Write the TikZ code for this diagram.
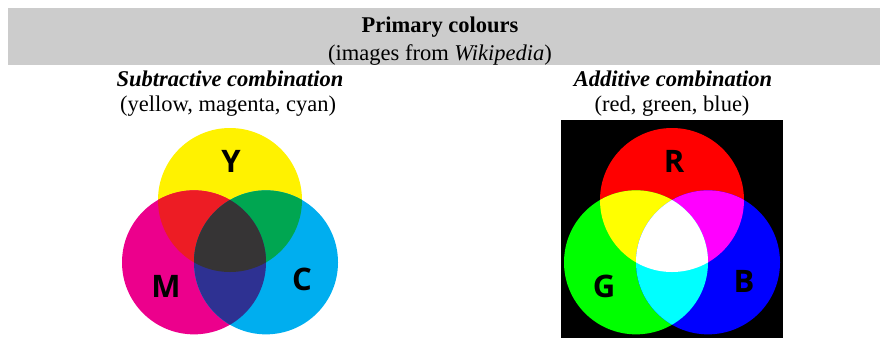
\documentclass[tikz,border=0pt]{standalone}
\usepackage{fontspec}
\setmainfont{Liberation Serif}
\newfontfamily\lblfont{Open Sans}
\definecolor{bandgray}{HTML}{CCCCCC}
\definecolor{sy}{HTML}{FFF200}
\definecolor{sm}{HTML}{EC008C}
\definecolor{sc}{HTML}{00AEEF}
\definecolor{sr}{HTML}{ED1C24}
\definecolor{sg}{HTML}{00A651}
\definecolor{sb}{HTML}{2E3192}
\definecolor{sk}{HTML}{363435}
\definecolor{ar}{HTML}{FF0000}
\definecolor{ag}{HTML}{00FF00}
\definecolor{ab}{HTML}{0000FF}
\definecolor{ay}{HTML}{FFFF00}
\definecolor{am}{HTML}{FF00FF}
\definecolor{ac}{HTML}{00FFFF}
\definecolor{aw}{HTML}{FFFFFF}
\begin{document}
\begin{tikzpicture}[x=1pt,y=-1pt,
  txt/.style={inner sep=0pt, anchor=base, font=\fontsize{22.5}{27}\selectfont},
  txtbold/.style={inner sep=0pt, anchor=base, font=\fontsize{22.5}{27}\selectfont\bfseries},
  txtbi/.style={inner sep=0pt, anchor=base, font=\fontsize{22.5}{27}\selectfont\bfseries\itshape},
  letter/.style={inner sep=0pt, anchor=base, font=\lblfont\bfseries\fontsize{31}{31}\selectfont}]
\useasboundingbox (0,0) rectangle (880,338);
% header band
\fill[bandgray] (8,8) rectangle (880,65);
\node[txtbold] (title) at (440,32) {Primary colours};
\node[txt] (source) at (440,60.5) {(images from \textit{Wikipedia})};
% column headings
\node[txtbi] (subhead) at (230,86) {Subtractive combination};
\node[txt] (subnames) at (228,111) {(yellow, magenta, cyan)};
\node[txtbi] (addhead) at (673,86) {Additive combination};
\node[txt] (addnames) at (672,111) {(red, green, blue)};
% subtractive circles
\def\rr{72pt}
\coordinate (Yc) at (230,200);
\coordinate (Mc) at (194,262.35);
\coordinate (Cc) at (266,262.35);
\fill[sy] (Yc) circle[radius=\rr];
\fill[sm] (Mc) circle[radius=\rr];
\fill[sc] (Cc) circle[radius=\rr];
\begin{scope}
  \clip (Yc) circle[radius=\rr];
  \fill[sr] (Mc) circle[radius=\rr];
  \fill[sg] (Cc) circle[radius=\rr];
\end{scope}
\begin{scope}
  \clip (Mc) circle[radius=\rr];
  \fill[sb] (Cc) circle[radius=\rr];
\end{scope}
\begin{scope}
  \clip (Yc) circle[radius=\rr];
  \clip (Mc) circle[radius=\rr];
  \fill[sk] (Cc) circle[radius=\rr];
\end{scope}
\node[letter] (Ylbl) at (231,172) {Y};
\node[letter] (Mlbl) at (166,297) {M};
\node[letter] (Clbl) at (302,290) {C};
% additive panel
\fill[black] (561,120) rectangle (783,338);
\coordinate (Rc) at (672,200);
\coordinate (Gc) at (636,262.35);
\coordinate (Bc) at (708,262.35);
\fill[ar] (Rc) circle[radius=\rr];
\fill[ag] (Gc) circle[radius=\rr];
\fill[ab] (Bc) circle[radius=\rr];
\begin{scope}
  \clip (Rc) circle[radius=\rr];
  \fill[ay] (Gc) circle[radius=\rr];
  \fill[am] (Bc) circle[radius=\rr];
\end{scope}
\begin{scope}
  \clip (Gc) circle[radius=\rr];
  \fill[ac] (Bc) circle[radius=\rr];
\end{scope}
\begin{scope}
  \clip (Rc) circle[radius=\rr];
  \clip (Gc) circle[radius=\rr];
  \fill[aw] (Bc) circle[radius=\rr];
\end{scope}
\node[letter] (Rlbl) at (674,172) {R};
\node[letter] (Glbl) at (604,297) {G};
\node[letter] (Blbl) at (744,292) {B};
\end{tikzpicture}
\end{document}
